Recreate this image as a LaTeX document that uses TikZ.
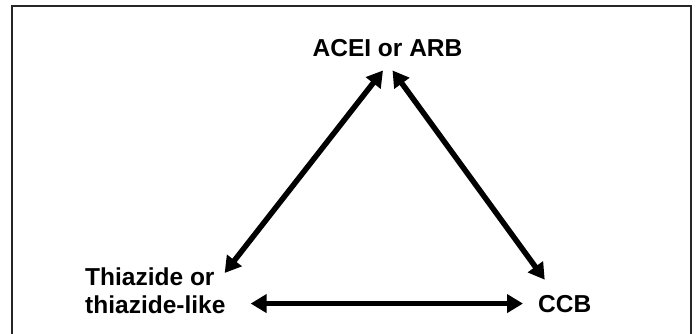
\documentclass[tikz,border=0pt]{standalone}
\usepackage{fontspec}
\setmainfont{Liberation Sans}
\usetikzlibrary{arrows.meta}

\begin{document}
\begin{tikzpicture}[x=1pt,y=-1pt,
    drug/.style={font=\fontsize{24.5}{28}\selectfont\bfseries},
    twoway/.style={line width=5.5pt,{Triangle[length=16pt,width=18pt]}-{Triangle[length=16pt,width=18pt]}}]
    \useasboundingbox (0,0) rectangle (696,334);

    % Frame, open at the bottom
    \draw[line width=1.5pt,black!85] (12,334) -- (12,6) -- (691,6) -- (691,334);

    % Drug classes
    \node[drug,anchor=base,inner xsep=0pt,inner ysep=13pt] (acei) at (387.5,57) {ACEI or ARB};
    \node[drug,align=left,anchor=north west,inner sep=0pt] (thia) at (85,268) {Thiazide or\\thiazide-like};
    \node[drug,anchor=base west,inner xsep=15pt,inner ysep=0pt] (ccb) at (523,312) {CCB};

    % Combinations
    \draw[twoway] ([xshift=-4.5pt]acei.south) -- ([shift={(-1,5)}]thia.north east);
    \draw[twoway] ([xshift=5pt]acei.south) -- ([shift={(-20,-15)}]ccb.north);
    \draw[twoway,shorten <=25pt] (thia.east |- ccb.west) -- (ccb.west);
\end{tikzpicture}
\end{document}
